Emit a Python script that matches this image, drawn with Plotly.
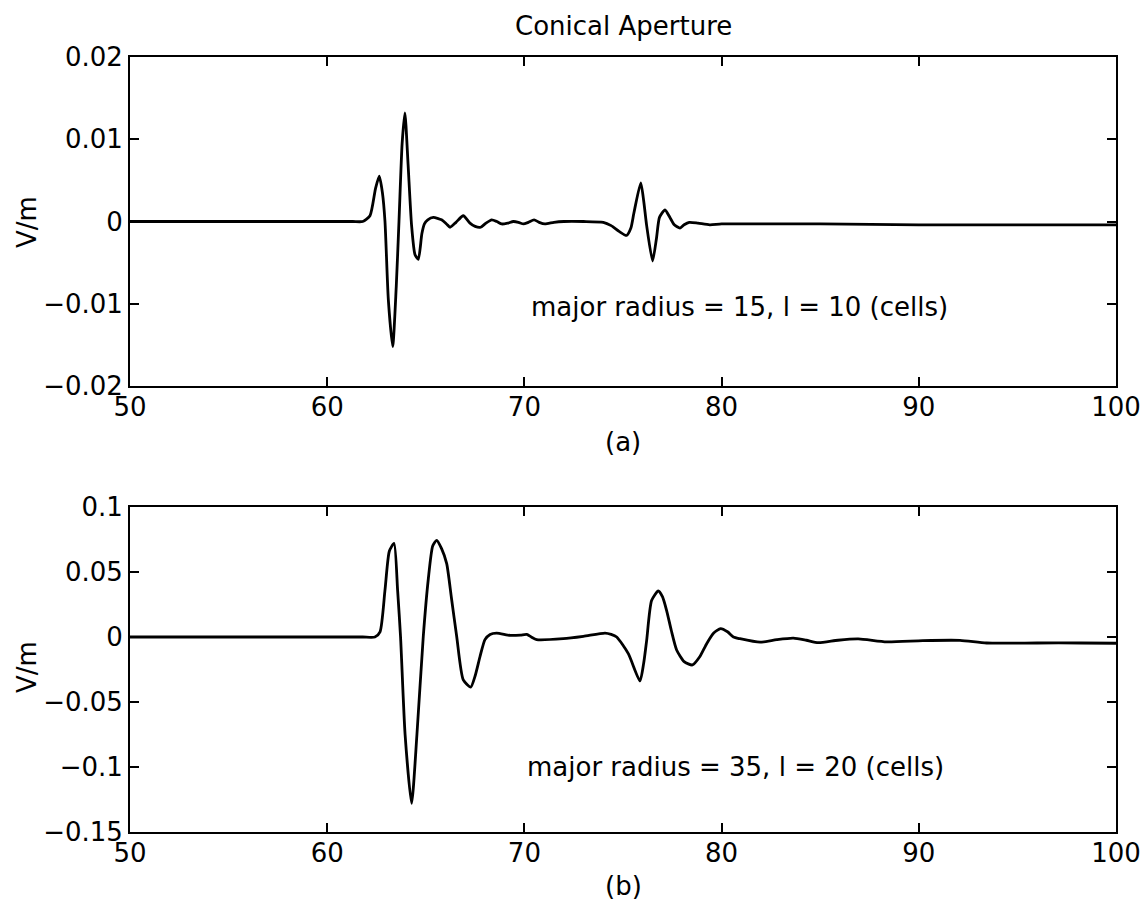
import plotly.graph_objects as go

# ---- data ----
top_x = [50, 55, 60, 61.3, 61.8, 62.17, 62.45, 62.64, 62.8, 62.93, 63.1, 63.32, 63.5, 63.64, 63.8,
         63.94, 64.1, 64.28, 64.45, 64.62, 64.8, 64.93, 65.1, 65.38, 65.8, 66.05, 66.23, 66.53,
         66.9, 67.24, 67.5, 67.78, 68.05, 68.34, 68.6, 68.85, 69.15, 69.44, 69.7, 69.95, 70.2,
         70.49, 70.75, 71.04, 71.5, 72, 73, 74.0, 74.4, 74.8, 75.18, 75.4, 75.55, 75.9, 76.05,
         76.2, 76.5, 76.7, 76.85, 77.13, 77.4, 77.6, 77.89, 78.1, 78.36, 78.8, 79.4, 80, 83, 85,
         90, 95, 100]
top_y = [0, 0, 0, 0, 0, 0.0007, 0.0040, 0.0055, 0.0035, 0.0, -0.0095, -0.0152, -0.008, 0.0,
         0.0095, 0.0132, 0.007, -0.0005, -0.0040, -0.0046, -0.0015, -0.0003, 0.0002, 0.0005,
         0.0002, -0.0003, -0.0007, -0.0001, 0.0007, -0.0002, -0.0006, -0.0007, -0.0002, 0.0002,
         0.0, -0.0003, -0.0002, 0.0, -0.0001, -0.0003, -0.0001, 0.0002, -0.0001, -0.0003,
         -0.0001, 0.0, 0.0, -0.0001, -0.0005, -0.0012, -0.0017, -0.0008, 0.001, 0.0047, 0.0025,
         -0.0005, -0.0048, -0.002, 0.0005, 0.0014, 0.0004, -0.0004, -0.0008, -0.0004, -0.0001,
         -0.0002, -0.0004, -0.0003, -0.0003, -0.0003, -0.0004, -0.0004, -0.0004]

bot_x = [50, 55, 60, 61.8, 62.42, 62.68, 62.93, 63.15, 63.39, 63.57, 63.72, 63.95, 64.28, 64.55,
         64.87, 65.13, 65.35, 65.55, 65.8, 66.06, 66.3, 66.57, 66.9, 67.28, 67.5, 67.75, 68.0,
         68.26, 68.59, 69.27, 69.8, 70.12, 70.35, 70.62, 71.97, 72.99, 74.09, 74.4, 74.68, 75.27,
         75.86, 76.05, 76.2, 76.45, 76.79, 77.0, 77.21, 77.45, 77.72, 78.1, 78.52, 78.9, 79.25,
         79.6, 79.95, 80.3, 80.6, 80.93, 81.95, 82.8, 83.64, 84.3, 84.9, 85.9, 86.93, 88.37,
         90.2, 92.09, 93.44, 96, 98.2, 100]
bot_y = [0, 0, 0, 0, 0.0, 0.004, 0.036, 0.066, 0.072, 0.036, 0.0, -0.075, -0.128, -0.075, 0.0,
         0.045, 0.070, 0.0744, 0.068, 0.0564, 0.03, 0.0, -0.033, -0.0385, -0.03, -0.015, -0.002,
         0.002, 0.003, 0.0013, 0.0015, 0.002, 0.0, -0.002, -0.0013, 0.0005, 0.003, 0.002, 0.0,
         -0.0128, -0.0338, -0.02, -0.0026, 0.028, 0.0354, 0.031, 0.0205, 0.005, -0.010, -0.019,
         -0.0215, -0.015, -0.005, 0.003, 0.0064, 0.004, 0.0, -0.0013, -0.004, -0.002, -0.0008,
         -0.0025, -0.0044, -0.0025, -0.0015, -0.0038, -0.0028, -0.0026, -0.0046, -0.0046,
         -0.0046, -0.0048]

x_ticks = [50, 60, 70, 80, 90, 100]
x_ticktext = ["50", "60", "70", "80", "90", "100"]
top_yticks = [-0.02, -0.01, 0, 0.01, 0.02]
top_yticktext = ["\u22120.02", "\u22120.01", "0", "0.01", "0.02"]
bot_yticks = [-0.15, -0.1, -0.05, 0, 0.05, 0.1]
bot_yticktext = ["\u22120.15", "\u22120.1", "\u22120.05", "0", "0.05", "0.1"]

title_text = "Conical Aperture"
ylabel = "V/m"
sub_a = "(a)"
sub_b = "(b)"
note_a = "major radius = 15, l = 10 (cells)"
note_b = "major radius = 35, l = 20 (cells)"

FONT = "DejaVu Sans, Liberation Sans, Arial, sans-serif"
FS = 26
OFF = 8                      # page body margin
W, H = 1148 - 2 * OFF, 913 - 2 * OFF

fig = go.Figure()
fig.add_trace(go.Scatter(x=top_x, y=top_y, mode="lines", xaxis="x", yaxis="y",
                         line=dict(color="black", width=2.8, shape="spline", smoothing=0.6),
                         showlegend=False, hoverinfo="skip"))
fig.add_trace(go.Scatter(x=bot_x, y=bot_y, mode="lines", xaxis="x2", yaxis="y2",
                         line=dict(color="black", width=2.8, shape="spline", smoothing=0.6),
                         showlegend=False, hoverinfo="skip"))

def px_x(p):
    return (p - OFF) / W

def px_y(p):
    return 1 - (p - OFF) / H

ax_common = dict(showline=True, linecolor="black", linewidth=1.8, mirror="ticks",
                 ticks="inside", ticklen=9, tickwidth=1.5, tickcolor="black",
                 showgrid=False, zeroline=False, automargin=False,
                 ticklabeloverflow="allow",
                 tickfont=dict(family=FONT, size=FS, color="black"))

xdom = [px_x(130), px_x(1116)]
fig.update_layout(
    width=W, height=H,
    margin=dict(l=0, r=0, t=0, b=0),
    paper_bgcolor="white", plot_bgcolor="white",
    font=dict(family=FONT, size=FS, color="black"),
    xaxis=dict(domain=xdom, range=[50, 100], tickvals=x_ticks, ticktext=x_ticktext,
               anchor="y", ticklabelstandoff=-3, **ax_common),
    yaxis=dict(domain=[px_y(386), px_y(57)], range=[-0.02, 0.02], tickvals=top_yticks,
               ticktext=top_yticktext, anchor="x", **ax_common),
    xaxis2=dict(domain=xdom, range=[50, 100], tickvals=x_ticks, ticktext=x_ticktext,
                anchor="y2", ticklabelstandoff=-3, **ax_common),
    yaxis2=dict(domain=[px_y(832), px_y(507)], range=[-0.15, 0.1], tickvals=bot_yticks,
                ticktext=bot_yticktext, anchor="x2", **ax_common),
)

ann = [
    dict(text=title_text, x=px_x(623), y=px_y(26), xref="paper", yref="paper",
         xanchor="center", yanchor="middle", showarrow=False, font=dict(size=26)),
    dict(text=ylabel, x=px_x(27), y=px_y(222), xref="paper", yref="paper",
         xanchor="center", yanchor="middle", showarrow=False, textangle=-90),
    dict(text=ylabel, x=px_x(27), y=px_y(667), xref="paper", yref="paper",
         xanchor="center", yanchor="middle", showarrow=False, textangle=-90),
    dict(text=sub_a, x=px_x(623), y=px_y(442), xref="paper", yref="paper",
         xanchor="center", yanchor="middle", showarrow=False),
    dict(text=sub_b, x=px_x(623), y=px_y(886), xref="paper", yref="paper",
         xanchor="center", yanchor="middle", showarrow=False),
    dict(text=note_a, x=80.9, y=-0.0104, xref="x", yref="y",
         xanchor="center", yanchor="middle", showarrow=False),
    dict(text=note_b, x=80.7, y=-0.1, xref="x2", yref="y2",
         xanchor="center", yanchor="middle", showarrow=False),
]
fig.update_layout(annotations=ann)

fig.write_html("out.html")
